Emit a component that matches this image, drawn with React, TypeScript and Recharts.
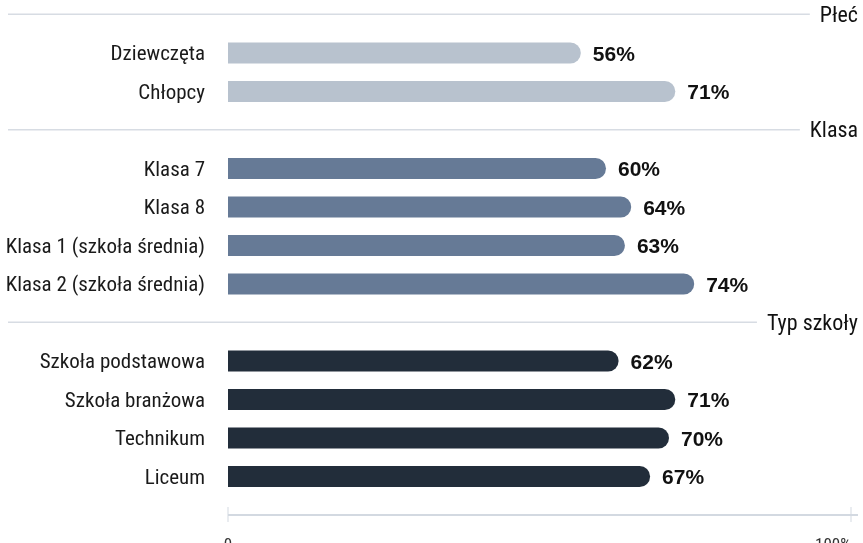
import { Bar, BarChart, Cell, LabelList, ReferenceLine, XAxis, YAxis } from "recharts";

const groupNames = ["Płeć", "Klasa", "Typ szkoły"];
const plecLabels = ["Dziewczęta", "Chłopcy"];
const plecValues = [56, 71];
const klasaLabels = [
  "Klasa 7",
  "Klasa 8",
  "Klasa 1 (szkoła średnia)",
  "Klasa 2 (szkoła średnia)",
];
const klasaValues = [60, 64, 63, 74];
const typLabels = ["Szkoła podstawowa", "Szkoła branżowa", "Technikum", "Liceum"];
const typValues = [62, 71, 70, 67];
const xTicks = [0, 100];

const groupColors = ["#b8c2ce", "#667a96", "#222d3a"];
const LABEL_FONT = "'Roboto Condensed', Roboto, sans-serif";
const VALUE_FONT = "'Liberation Sans', Arial, sans-serif";
const HEADER_SIZE = 22;

interface Row {
  name: string;
  value: number | null;
  group: number;
  header: boolean;
}

const groupItems = [
  { labels: plecLabels, values: plecValues },
  { labels: klasaLabels, values: klasaValues },
  { labels: typLabels, values: typValues },
];

// header rows sit in the category axis too, so the group titles get their own band
const rows: Row[] = groupItems.flatMap((g, gi) => [
  { name: groupNames[gi], value: null, group: gi, header: true },
  ...g.labels.map((label, i) => ({
    name: label,
    value: g.values[i],
    group: gi,
    header: false,
  })),
]);

const headerSet = new Set(groupNames);

let measureCtx: CanvasRenderingContext2D | null = null;
function textWidth(text: string, font: string) {
  if (!measureCtx) measureCtx = document.createElement("canvas").getContext("2d");
  if (!measureCtx) return text.length * 9;
  measureCtx.font = font;
  return measureCtx.measureText(text).width;
}

function YTick({ x, y, payload }: any) {
  if (headerSet.has(payload.value)) return <g />;
  return (
    <text
      x={x}
      y={y}
      dy="0.35em"
      textAnchor="end"
      fontFamily={LABEL_FONT}
      fontSize={21}
      fill="#1a1a1a"
    >
      {payload.value}
    </text>
  );
}

function XTick({ x, y, payload }: any) {
  const last = payload.value === 100;
  return (
    <g>
      <line x1={x} x2={x} y1={y - 8} y2={y + 7} stroke="#d3d9e1" strokeWidth={1} />
      <text
        x={x}
        y={y + 22}
        dominantBaseline="hanging"
        textAnchor={last ? "end" : "middle"}
        fontFamily={LABEL_FONT}
        fontSize={17}
        fill="#333"
      >
        {last ? "100%" : "0"}
      </text>
    </g>
  );
}

function HeaderLine({ y1, x2, title }: any) {
  const font = `${HEADER_SIZE}px ${LABEL_FONT}`;
  const w = textWidth(title, font);
  return (
    <g>
      <line x1={8} x2={x2 - w - 10} y1={y1} y2={y1} stroke="#d7dce3" strokeWidth={1.5} />
      <text
        x={x2}
        y={y1}
        dy="0.35em"
        textAnchor="end"
        fontFamily={LABEL_FONT}
        fontSize={HEADER_SIZE}
        fill="#111"
      >
        {title}
      </text>
    </g>
  );
}

function ValueLabel({ x, y, width, height, value }: any) {
  if (value == null) return null;
  return (
    <text
      x={x + width + 12}
      y={y + height / 2}
      dy="0.38em"
      fontFamily={VALUE_FONT}
      fontWeight={700}
      fontSize={21}
      fill="#111"
    >
      {value}%
    </text>
  );
}

export default function App() {
  return (
    // fixed so the bottom overflow (cut tick labels) does not add a scrollbar
    <div style={{ position: "fixed", top: -5, left: 0 }}>
      <BarChart
        width={863}
        height={550}
        data={rows}
        layout="vertical"
        margin={{ top: 0, right: 5, bottom: 0, left: 0 }}
        barCategoryGap={0}
      >
        <XAxis
          type="number"
          domain={[0, 100]}
          ticks={xTicks}
          height={30}
          tickSize={0}
          tickMargin={0}
          tickLine={false}
          axisLine={{ stroke: "#d3d9e1", strokeWidth: 2 }}
          tick={<XTick />}
        />
        <YAxis
          type="category"
          dataKey="name"
          width={228}
          interval={0}
          tickSize={0}
          tickMargin={23}
          axisLine={false}
          tickLine={false}
          padding={{ top: 0, bottom: 19.5 }}
          tick={<YTick />}
        />
        {groupNames.map((g) => (
          <ReferenceLine
            key={g}
            y={g}
            shape={(p: any) => <HeaderLine {...p} title={g} />}
          />
        ))}
        <Bar dataKey="value" barSize={21} radius={[0, 11, 11, 0]} isAnimationActive={false}>
          {rows.map((r) => (
            <Cell key={r.name} fill={groupColors[r.group]} />
          ))}
          <LabelList dataKey="value" content={<ValueLabel />} />
        </Bar>
      </BarChart>
    </div>
  );
}
